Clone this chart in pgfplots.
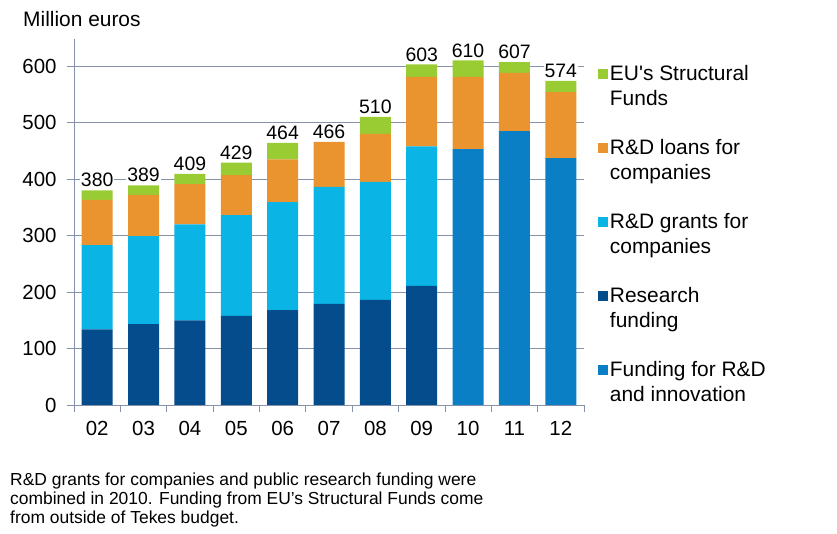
\documentclass[border=0pt]{standalone}
\usepackage{fontspec}
\setmainfont{Liberation Sans}
\usepackage{pgfplots}
\usepackage{pgfplotstable}
\pgfplotsset{compat=1.18}
\definecolor{cEU}{RGB}{153,204,51}
\definecolor{cLoan}{RGB}{233,148,47}
\definecolor{cGrant}{RGB}{10,180,228}
\definecolor{cRes}{RGB}{4,76,140}
\definecolor{cFund}{RGB}{11,127,198}
\definecolor{cGrid}{RGB}{134,146,170}
\pgfplotstableread{
x fund res grant loan eu total
0 0 134 149 80 17 380
1 0 143 156 73 17 389
2 0 150 170 71 18 409
3 0 158 178 71 22 429
4 0 168 191 76 29 464
5 0 179 207 80 0 466
6 0 186 209 85 30 510
7 0 211 247 123 22 603
8 453 0 0 128 29 610
9 485 0 0 103 19 607
10 437 0 0 117 20 574
}\data
\pgfplotsset{base/.style={
  at={(74bp,129bp)}, anchor=south west,
  scale only axis, width=510bp, height=366bp,
  xmin=-0.5, xmax=10.5, ymin=0, ymax=648, bar width=31bp,
  /pgf/number format/assume math mode=true}}
\begin{document}
\begin{tikzpicture}
\path[use as bounding box] (0,0) rectangle (837bp,534bp);
\begin{axis}[
  base,
  ybar stacked,
  axis x line*=bottom, axis y line*=left,
  axis line style={cGrid, line width=0.8bp, -},
  tick align=outside,
  xtick={0,...,10},
  xticklabels={02,03,04,05,06,07,08,09,10,11,12},
  major x tick style={draw=none},
  minor xtick={-0.5,0.5,...,10.5},
  minor x tick style={cGrid, line width=0.8bp},
  minor tick length=7bp,
  ytick={0,100,...,600},
  major tick length=7bp,
  y tick style={cGrid, line width=0.8bp},
  ymajorgrids, grid style={cGrid, line width=0.8bp},
  ticklabel style={font=\fontsize{20.5}{24}\selectfont},
  xticklabel style={yshift=-6bp},
  yticklabel style={xshift=-7bp},
  legend style={at={(1.027,0.935)}, anchor=north west, draw=none, fill=none,
    font=\fontsize{21}{25}\selectfont, row sep=28.5bp,
    cells={anchor=west, align=left}, inner sep=0pt,
    every odd column/.style={column sep=3bp}},
  legend image code/.code={\fill[#1] (0bp,7bp) rectangle (10bp,17bp);},
  reverse legend,
  clip=false,
]
\addplot[fill=cFund, draw=none] table[x=x, y=fund] {\data};
\addlegendentry{Funding for R\&D\\and innovation}
\addplot[fill=cRes, draw=none] table[x=x, y=res] {\data};
\addlegendentry{Research\\funding}
\addplot[fill=cGrant, draw=none] table[x=x, y=grant] {\data};
\addlegendentry{R\&D grants for\\companies}
\addplot[fill=cLoan, draw=none] table[x=x, y=loan] {\data};
\addlegendentry{R\&D loans for\\companies}
\addplot[fill=cEU, draw=none] table[x=x, y=eu] {\data};
\addlegendentry{EU\textquotesingle s Structural\\Funds}
\end{axis}
\begin{axis}[
  base, ybar, axis lines=none, clip=false,
  nodes near coords, point meta=explicit,
  every node near coord/.append style={anchor=south, fill=white, inner sep=1bp,
    yshift=2bp, font=\fontsize{19.5}{22}\selectfont, text=black},
]
\addplot[draw=none, fill=none] table[x=x, y=total, meta=total] {\data};
\end{axis}
\node[anchor=base west, inner sep=0pt, font=\fontsize{21}{24}\selectfont] at (23bp,507bp) {Million euros};
\node[anchor=north west, align=left, inner sep=0pt, font=\fontsize{17.5}{19}\selectfont] at (10bp,61bp)
  {R\&D grants for companies and public research funding were\\
   combined in 2010. Funding from EU’s Structural Funds come\\
   from outside of Tekes budget.};
\end{tikzpicture}
\end{document}
